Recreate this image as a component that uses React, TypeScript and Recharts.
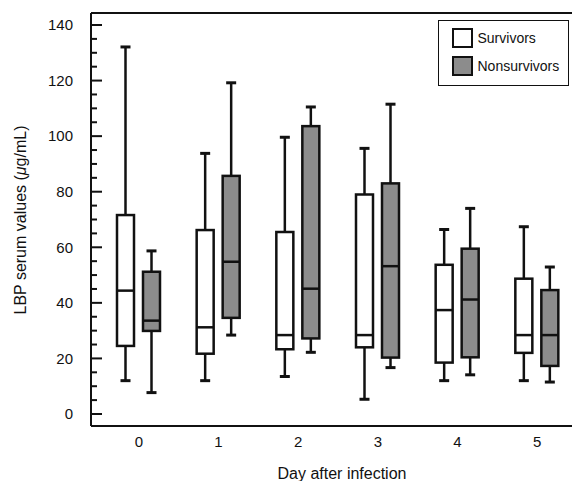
import React from 'react';
import { BarChart, Bar, XAxis, YAxis, ReferenceLine, Legend, Label } from 'recharts';

const days = ['0', '1', '2', '3', '4', '5'];

// LBP serum values (µg/mL)
const survivorsMin = [12, 12, 13.5, 5.3, 12, 12];
const survivorsQ1 = [24.5, 21.7, 23.3, 24, 18.5, 22];
const survivorsMedian = [44.4, 31.2, 28.4, 28.4, 37.4, 28.4];
const survivorsQ3 = [71.6, 66.2, 65.5, 79, 53.7, 48.7];
const survivorsMax = [132.1, 93.8, 99.6, 95.6, 66.4, 67.4];

const nonsurvivorsMin = [7.7, 28.4, 22.2, 16.7, 14.1, 11.5];
const nonsurvivorsQ1 = [29.9, 34.6, 27.2, 20.3, 20.4, 17.3];
const nonsurvivorsMedian = [33.6, 54.8, 45.1, 53.2, 41.2, 28.4];
const nonsurvivorsQ3 = [51.2, 85.7, 103.6, 83, 59.5, 44.6];
const nonsurvivorsMax = [58.7, 119.2, 110.5, 111.5, 74, 52.9];

const yTicks = [0, 5, 10, 15, 20, 25, 30, 35, 40, 45, 50, 55, 60, 65, 70, 75, 80, 85, 90, 95, 100, 105, 110, 115, 120, 125, 130, 135, 140];
const yLabelTicks = [0, 20, 40, 60, 80, 100, 120, 140];
const yDomain: [number, number] = [-4.32, 144.32];

const legendLabels = ['Survivors', 'Nonsurvivors'];
const legendFills = ['#ffffff', '#8c8c8c'];

const FONT = '"Liberation Sans", Arial, sans-serif';
const INK = '#111';

type Box = { min: number; q1: number; median: number; q3: number; max: number };

const data = days.map((day, i) => ({
    day,
    survivors: [survivorsMin[i], survivorsMax[i]],
    nonsurvivors: [nonsurvivorsMin[i], nonsurvivorsMax[i]],
    survivorsBox: {
        min: survivorsMin[i],
        q1: survivorsQ1[i],
        median: survivorsMedian[i],
        q3: survivorsQ3[i],
        max: survivorsMax[i],
    },
    nonsurvivorsBox: {
        min: nonsurvivorsMin[i],
        q1: nonsurvivorsQ1[i],
        median: nonsurvivorsMedian[i],
        q3: nonsurvivorsQ3[i],
        max: nonsurvivorsMax[i],
    },
}));

// the bar spans min..max, so its pixel height gives the y scale for the box parts
const BoxShape = (props: any) => {
    const { x, y, width, height, box, fill } = props as {
        x: number; y: number; width: number; height: number; box: Box; fill: string;
    };
    const k = height / (box.max - box.min);
    const py = (v: number) => y + (box.max - v) * k;
    const cx = x + width / 2;
    return (
        <g>
            <line x1={cx} x2={cx} y1={py(box.max)} y2={py(box.q3)} stroke={INK} strokeWidth={2.5} />
            <line x1={cx} x2={cx} y1={py(box.q1)} y2={py(box.min)} stroke={INK} strokeWidth={2.5} />
            <line x1={cx - 5} x2={cx + 5} y1={py(box.max)} y2={py(box.max)} stroke={INK} strokeWidth={3} />
            <line x1={cx - 5} x2={cx + 5} y1={py(box.min)} y2={py(box.min)} stroke={INK} strokeWidth={3} />
            <rect
                x={x}
                y={py(box.q3)}
                width={width}
                height={py(box.q1) - py(box.q3)}
                fill={fill}
                stroke={INK}
                strokeWidth={2.5}
            />
            <line x1={x} x2={x + width} y1={py(box.median)} y2={py(box.median)} stroke={INK} strokeWidth={2.5} />
        </g>
    );
};

const YTick = (props: any) => {
    const { x, y, payload } = props;
    const major = yLabelTicks.includes(payload.value);
    return (
        <g>
            <line x1={x} x2={x + (major ? 11 : 6)} y1={y} y2={y} stroke={INK} strokeWidth={2} />
            {major && (
                <text x={x - 18} y={y} dy="0.35em" textAnchor="end" fontSize={15} fill={INK} fontFamily={FONT}>
                    {payload.value}
                </text>
            )}
        </g>
    );
};

const LegendBox = () => (
    <div
        style={{
            position: 'relative',
            width: 131,
            height: 66,
            boxSizing: 'border-box',
            border: `1.5px solid ${INK}`,
            background: '#fff',
            fontFamily: FONT,
            fontSize: 14,
            color: INK,
        }}
    >
        {legendLabels.map((label, i) => (
            <div
                key={label}
                style={{ position: 'absolute', left: 12.5, top: 6.5 + i * 28.5, display: 'flex', alignItems: 'center' }}
            >
                <span
                    style={{
                        display: 'inline-block',
                        width: 21,
                        height: 20,
                        boxSizing: 'border-box',
                        border: `2.5px solid ${INK}`,
                        background: legendFills[i],
                    }}
                />
                <span style={{ marginLeft: 5, lineHeight: '20px' }}>{label}</span>
            </div>
        ))}
    </div>
);

export default function App() {
    return (
        <div
            style={{
                position: 'absolute',
                left: 0,
                top: 0,
                width: 572,
                height: 481,
                overflow: 'hidden',
                background: '#fff',
            }}
        >
            <BarChart
                width={585}
                height={481}
                data={data}
                margin={{ top: 13, right: 0, bottom: 0, left: 0 }}
                barGap={9}
                style={{ fontFamily: FONT }}
            >
                <XAxis
                    dataKey="day"
                    height={55}
                    padding={{ left: 8, right: 8 }}
                    tickLine={false}
                    tickSize={0}
                    tickMargin={10}
                    axisLine={{ stroke: INK, strokeWidth: 2 }}
                    tick={{ fill: INK, fontSize: 15 }}
                >
                    <Label
                        content={() => (
                            <text x={342} y={479} textAnchor="middle" fontSize={16} fill={INK} fontFamily={FONT}>
                                Day after infection
                            </text>
                        )}
                    />
                </XAxis>
                <YAxis
                    type="number"
                    width={91}
                    domain={yDomain}
                    allowDataOverflow
                    ticks={yTicks}
                    interval={0}
                    tickSize={0}
                    tickMargin={0}
                    tickLine={false}
                    axisLine={{ stroke: INK, strokeWidth: 2 }}
                    tick={<YTick />}
                >
                    <Label
                        content={() => (
                            <text
                                transform="translate(26, 220) rotate(-90)"
                                textAnchor="middle"
                                fontSize={16}
                                fill={INK}
                                fontFamily={FONT}
                            >
                                LBP serum values (<tspan fontStyle="italic">μ</tspan>g/mL)
                            </text>
                        )}
                    />
                </YAxis>
                <ReferenceLine y={yDomain[1]} stroke={INK} strokeWidth={2} />
                <Legend
                    layout="vertical"
                    align="center"
                    verticalAlign="middle"
                    wrapperStyle={{ left: 438, top: 20, width: 131, height: 66 }}
                    content={<LegendBox />}
                />
                <Bar
                    dataKey="survivors"
                    barSize={17}
                    isAnimationActive={false}
                    shape={(p: any) => <BoxShape {...p} box={p.payload.survivorsBox} fill={legendFills[0]} />}
                />
                <Bar
                    dataKey="nonsurvivors"
                    barSize={17}
                    isAnimationActive={false}
                    shape={(p: any) => <BoxShape {...p} box={p.payload.nonsurvivorsBox} fill={legendFills[1]} />}
                />
            </BarChart>
        </div>
    );
}
